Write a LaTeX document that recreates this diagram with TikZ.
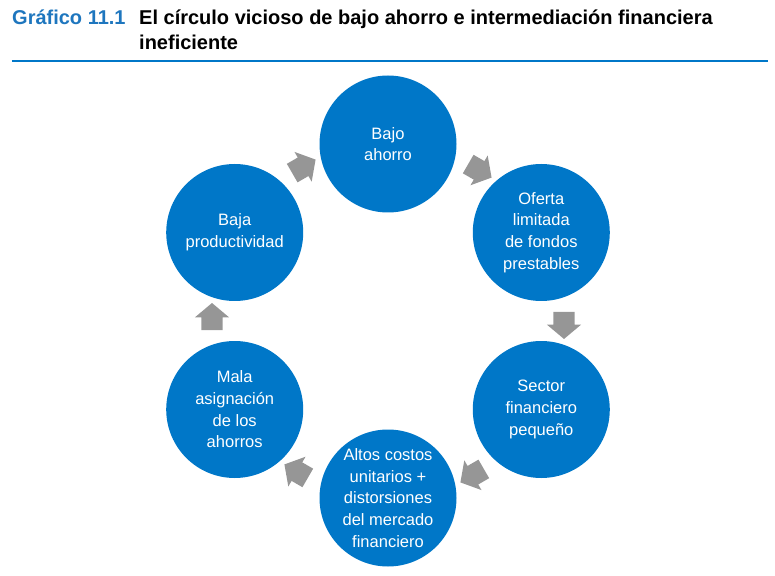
\documentclass[tikz,border=0pt]{standalone}
\usepackage{fontspec}
\setmainfont{Liberation Sans}
\usetikzlibrary{shapes.arrows}
\definecolor{cblue}{RGB}{0,119,200}
\definecolor{tblue}{RGB}{30,118,190}
\definecolor{agray}{RGB}{150,150,150}
\tikzset{%
  % Specifications for style of nodes:
            base/.style = {circle, fill=cblue, inner sep=0pt,
                           minimum size=137pt, align=center,
                           text=white, font=\fontsize{16.5}{21.7}\selectfont},
        blockarr/.style = {single arrow, fill=agray, inner xsep=0pt,
                           inner ysep=10.5pt, minimum height=27pt,
                           single arrow head extend=6.5pt,
                           single arrow tip angle=100},
       titletext/.style = {anchor=base west, inner sep=0pt,
                           font=\fontsize{20}{25}\selectfont\bfseries},
}

\begin{document}
\begin{tikzpicture}[x=1pt, y=1pt]
  \useasboundingbox (-388,321) rectangle (387,-254);
  % Title and rule
  \node (num)     [titletext, text=tblue] at (-376,296) {Gráfico 11.1};
  \node (title)   [titletext] at (-249,296) {El círculo vicioso de bajo ahorro e intermediación financiera};
  \node (title2)  [titletext] at (-249,271) {ineficiente};
  \draw[cblue, line width=1.3pt] (-376,260) -- (380,260);

  % Specification of nodes (position, etc.)
  \node (ahorro)  [base] at (90:177)  {Bajo\\ahorro};
  \node (oferta)  [base] at (30:177)  {Oferta\\limitada\\de fondos\\prestables};
  \node (sector)  [base] at (-30:177) {Sector\\financiero\\pequeño};
  \node (costos)  [base] at (-90:177) {Altos costos\\unitarios +\\distorsiones\\del mercado\\financiero};
  \node (mala)    [base] at (210:177) {Mala\\asignación\\de los\\ahorros};
  \node (prod)    [base] at (150:177) {Baja\\productividad};

  % Block arrows between the circles
  \node (ahorro-oferta)  [blockarr, rotate=-30]  at (60:176)  {};
  \node (oferta-sector)  [blockarr, rotate=-90]  at (0:176)   {};
  \node (sector-costos)  [blockarr, rotate=-150] at (-60:176) {};
  \node (costos-mala)    [blockarr, rotate=150]  at (240:176) {};
  \node (mala-prod)      [blockarr, rotate=90]   at (180:176) {};
  \node (prod-ahorro)    [blockarr, rotate=30]   at (120:176) {};

\end{tikzpicture}
\end{document}
